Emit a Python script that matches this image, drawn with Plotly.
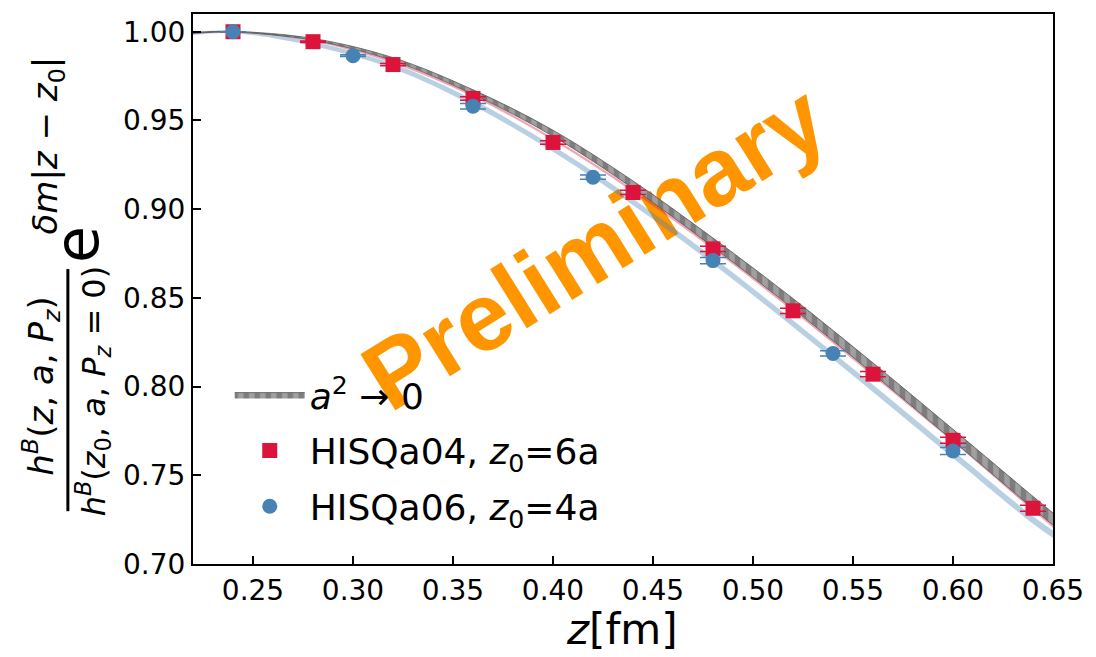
import plotly.graph_objects as go

# ---------------- data ----------------
# fit-band grid (z in fm)
z_fit = [0.22, 0.24, 0.28, 0.32, 0.36, 0.40, 0.44, 0.48, 0.52, 0.56, 0.60, 0.64, 0.65]
# continuum (a^2 -> 0) band
cont_mid = [0.9993, 1.0000, 0.9957, 0.9845, 0.9660, 0.9428, 0.9138, 0.8812, 0.8468, 0.8103, 0.7727, 0.7347, 0.7254]
cont_hw = [0.0002, 0.0002, 0.0005, 0.0009, 0.0013, 0.0017, 0.0021, 0.0025, 0.0028, 0.0030, 0.0032, 0.0034, 0.0034]
# HISQ a04 fit band
a04_mid = [0.9992, 1.0000, 0.9950, 0.9828, 0.9640, 0.9395, 0.9105, 0.8782, 0.8433, 0.8068, 0.7697, 0.7310, 0.7215]
a04_hw = [0.0003, 0.0003, 0.0005, 0.0006, 0.0007, 0.0008, 0.0008, 0.0009, 0.0009, 0.0010, 0.0010, 0.0010, 0.0010]
# HISQ a06 fit band
a06_mid = [0.9990, 1.0000, 0.9932, 0.9805, 0.9600, 0.9340, 0.9040, 0.8710, 0.8355, 0.7990, 0.7618, 0.7248, 0.7168]
a06_hw = [0.0008, 0.0008, 0.0012, 0.0014, 0.0016, 0.0017, 0.0018, 0.0019, 0.0019, 0.0020, 0.0020, 0.0021, 0.0021]

# data points
z_a04 = [0.24, 0.28, 0.32, 0.36, 0.40, 0.44, 0.48, 0.52, 0.56, 0.60, 0.64]
val_a04 = [1.0000, 0.9944, 0.9815, 0.9624, 0.9376, 0.9094, 0.8776, 0.8427, 0.8070, 0.7697, 0.7314]
err_a04 = [0.0000, 0.0004, 0.0006, 0.0010, 0.0010, 0.0012, 0.0015, 0.0015, 0.0015, 0.0017, 0.0017]

z_a06 = [0.24, 0.30, 0.36, 0.42, 0.48, 0.54, 0.60]
val_a06 = [1.0000, 0.9865, 0.9580, 0.9180, 0.8710, 0.8187, 0.7637]
err_a06 = [0.0000, 0.0005, 0.0015, 0.0012, 0.0018, 0.0015, 0.0020]

x_ticks = [0.25, 0.30, 0.35, 0.40, 0.45, 0.50, 0.55, 0.60, 0.65]
y_ticks = [0.70, 0.75, 0.80, 0.85, 0.90, 0.95, 1.00]

RED = "#DC143C"
BLUE = "#4682B4"
FONT = "DejaVu Sans"

fig = go.Figure()


def band(mid, hw, fillcolor, linecolor, name=None, show=False, pattern=None, lw=0, group=None, rank=1000):
    lo = [m - h for m, h in zip(mid, hw)]
    hi = [m + h for m, h in zip(mid, hw)]
    fig.add_trace(go.Scatter(x=z_fit, y=lo, mode="lines", line=dict(color=linecolor, width=lw, shape="spline"),
                             showlegend=False, hoverinfo="skip", legendgroup=group, legendrank=rank))
    kw = dict(fillcolor=fillcolor)
    if pattern is not None:
        kw = dict(fillpattern=pattern)
    fig.add_trace(go.Scatter(x=z_fit, y=hi, mode="lines", fill="tonexty",
                             line=dict(color=linecolor, width=lw, shape="spline"),
                             name=name, showlegend=show, hoverinfo="skip", legendgroup=group,
                             legendrank=rank, **kw))


band(a06_mid, a06_hw, "rgba(70,130,180,0.38)", "rgba(70,130,180,0.38)", group="g6", rank=3)
band(a04_mid, a04_hw, "rgba(220,20,60,0.38)", "rgba(220,20,60,0.38)", group="g4", rank=2)
band(cont_mid, cont_hw, None, "#555555", name="<i>a</i><sup>2</sup> → 0", show=True,
     pattern=dict(shape="|", fgcolor="#5a5a5a", bgcolor="#a0a0a0", size=11, solidity=0.5, fillmode="overlay"),
     lw=0.8, group="g0", rank=1)

fig.add_trace(go.Scatter(
    x=z_a04, y=val_a04, mode="markers", name="HISQa04, <i>z</i><sub>0</sub>=6a", legendgroup="g4", legendrank=2,
    marker=dict(symbol="square", size=15, color=RED),
    error_y=dict(type="data", array=err_a04, color=RED, thickness=1.5, width=13),
))
fig.add_trace(go.Scatter(
    x=z_a06, y=val_a06, mode="markers", name="HISQa06, <i>z</i><sub>0</sub>=4a", legendgroup="g6", legendrank=3,
    marker=dict(symbol="circle", size=15, color=BLUE),
    error_y=dict(type="data", array=err_a06, color=BLUE, thickness=1.5, width=13),
))

L, R, T, B = 193, 37, 12, 93
W, H = 1096, 657
pw, ph = W - L - R, H - T - B


def px(xp):
    return (xp - L) / pw


def py(yp):
    return 1 - (yp - T) / ph


axis_common = dict(showline=True, linecolor="black", linewidth=2, mirror=True, ticks="inside",
                   ticklen=8, tickwidth=1.5, tickcolor="black", showgrid=False, zeroline=False,
                   tickfont=dict(family=FONT, size=28, color="black"))

fig.update_xaxes(range=[0.22, 0.65], tickvals=x_ticks, tickformat=".2f", **axis_common)
fig.update_yaxes(range=[0.70, 1.01], tickvals=y_ticks, tickformat=".2f", **axis_common)

# watermark (below traces)
cx, cy = px(592), py(238)
fig.add_shape(type="rect", xref="paper", yref="paper", x0=cx - 0.05, x1=cx + 0.05, y0=cy - 0.05, y1=cy + 0.05,
              line=dict(width=0), fillcolor="rgba(0,0,0,0)", layer="below",
              label=dict(text="<b>Preliminary</b>", textangle=-32, textposition="middle center",
                         font=dict(family="Liberation Sans", size=96, color="#FF9600")))

annots = [
    dict(text="<i>h</i><sup><i>B</i></sup>(<i>z</i>, <i>a</i>, <i>P</i><sub><i>z</i></sub>)",
         x=px(40), y=py(386), size=34),
    dict(text="<i>h</i><sup><i>B</i></sup>(<i>z</i><sub>0</sub>, <i>a</i>, <i>P</i><sub><i>z</i></sub> = 0)",
         x=px(92), y=py(390), size=32),
    dict(text="e", x=px(76), y=py(243), size=60),
    dict(text="<i>δm</i>|<i>z</i> − <i>z</i><sub>0</sub>|", x=px(47), y=py(144), size=34),
]
for a in annots:
    fig.add_annotation(text=a["text"], x=a["x"], y=a["y"], xref="paper", yref="paper",
                       showarrow=False, textangle=-90, xanchor="center", yanchor="middle",
                       font=dict(family=FONT, size=a["size"], color="black"))
# fraction bar
fig.add_shape(type="line", xref="paper", yref="paper", x0=px(67), x1=px(67), y0=py(511), y1=py(268),
              line=dict(color="black", width=3))

# x-axis title
fig.add_annotation(text="<i>z</i>[fm]", x=px(625), y=py(630), xref="paper", yref="paper",
                   showarrow=False, xanchor="center", yanchor="middle",
                   font=dict(family=FONT, size=42, color="black"))

fig.update_layout(
    width=W, height=H, margin=dict(l=L, r=R, t=T, b=B, pad=0),
    paper_bgcolor="white", plot_bgcolor="white",
    legend=dict(x=px(230), y=py(364), xanchor="left", yanchor="top", bgcolor="rgba(0,0,0,0)",
                traceorder="grouped",
                font=dict(family=FONT, size=36, color="black"), itemwidth=70, tracegroupgap=6),
    showlegend=True,
)

fig.write_html("out.html")
